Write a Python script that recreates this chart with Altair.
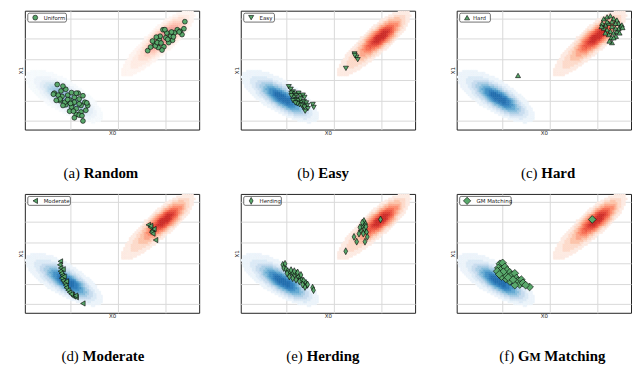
import altair as alt
import numpy as np
import pandas as pd

GREEN = "#59a86b"

X_DOMAIN = [-9.8, 8.5]
Y_DOMAIN = [-6.85, 4.75]
X_GRID = [-5, 0, 5]
Y_GRID = [-6, -4, -2, 0, 2, 4]

# KDE components:
# centre x, centre y, spread along main axis, spread across, angle (deg), weight
BLUE_KDE = [[-5.3, -3.8, 1.5, 0.5, -30, 1.0], [-6.2, -3.3, 2.3, 0.9, -27, 0.12]]
RED_KDE = [[5.0, 2.3, 1.4, 0.48, 38, 1.0], [3.0, 0.6, 1.9, 0.6, 40, 0.15]]
LEVELS = [0.03, 0.08, 0.15, 0.24, 0.34, 0.45, 0.57, 0.70, 0.84]
BLUES = ["#edf4fb", "#dceaf6", "#c8dcef", "#abcfe6", "#88bedc", "#64a9d3", "#4592c6", "#3380bd", "#2470b0"]
REDS = ["#fdebe3", "#fddaca", "#fcc3aa", "#fca78b", "#fc8b6c", "#f66d51", "#ec5340", "#de3d32", "#cc2b27"]

# (a) Random / Uniform
RANDOM_X = [-6.4, -6.7, -6.0, -5.5, -5.3, -5.9, -6.1, -5.1, -4.6, -4.2, -4.1, -4.8, -5.5, -4.9, -4.4, -3.9,
            -3.5, -3.4, -3.9, -4.4, -5.1, -5.6, -6.3, -6.8, -5.8, -3.7, -3.2, -4.6, -5.3, -4.1, -3.7, -4.9,
            -6.1, -4.7, -4.1, -3.3, -5.0, -4.4, -5.8, -3.8, -4.6, -6.5,
            3.1, 3.8, 4.3, 4.7, 5.1, 5.5, 5.7, 5.3, 4.8, 4.6, 4.2, 3.9, 4.4, 5.0, 6.2, 6.5, 7.0, 6.9, 6.7,
            6.4, 5.9, 5.6, 4.0, 3.6, 5.2, 4.1, 4.5, 5.8, 4.9, 3.4]
RANDOM_Y = [-2.45, -3.30, -3.08, -2.92, -3.49, -3.62, -4.03, -3.96, -3.71, -3.30, -3.87, -4.34, -4.43, -4.65,
            -4.81, -4.50, -4.18, -4.97, -5.13, -5.38, -5.06, -4.18, -3.49, -3.40, -2.61, -3.55, -4.50, -4.18,
            -3.93, -5.44, -6.01, -3.24, -3.87, -5.06, -4.34, -4.25, -4.3, -3.3, -4.5, -5.5, -5.7, -4.0,
            0.85, 1.54, 1.95, 2.89, 2.58, 2.26, 1.86, 1.64, 1.23, 0.91, 1.16, 1.32, 2.26, 2.11, 2.89, 2.74,
            3.68, 2.99, 2.42, 2.67, 2.58, 2.67, 2.17, 1.79, 1.95, 1.64, 1.6, 2.2, 2.9, 1.2]

# (b) Easy
EASY_X = [2.14, 2.35, 2.48, 2.17, 1.24, -4.76, -4.55, -4.31, -4.49, -4.14, -3.97, -3.73, -3.52, -3.28, -3.11,
          -4.21, -3.97, -3.73, -3.45, -3.17, -2.93, -2.83, -2.76, -3.04, -3.28, -3.62, -3.86, -4.31, -4.07,
          -3.52, -2.24, -2.14, -4.49, -3.38, -3.11]
EASY_Y = [0.53, 0.22, -0.03, 0.38, -0.88, -2.67, -2.92, -3.18, -3.30, -3.40, -3.55, -3.30, -3.55, -3.49, -3.71,
          -3.71, -3.93, -4.03, -4.18, -4.12, -4.25, -4.50, -4.81, -5.06, -4.65, -4.43, -4.34, -4.03, -4.25,
          -3.87, -4.40, -4.69, -3.55, -4.50, -4.65]

# (c) Hard
HARD_X = [-3.36, 5.64, 5.99, 6.33, 6.68, 7.02, 7.20, 7.37, 7.54, 6.85, 6.50, 6.16, 5.81, 5.64, 5.99, 6.33, 6.68,
          7.02, 7.20, 6.85, 6.50, 6.16, 6.44, 6.50, 6.23, 5.81, 5.47, 5.40, 6.92, 6.68, 7.30, 7.61, 5.99]
HARD_Y = [-1.57, 3.96, 4.15, 4.25, 3.99, 3.84, 3.52, 3.21, 3.36, 3.52, 3.68, 3.52, 3.36, 3.05, 2.89, 2.74, 2.58,
          2.74, 2.99, 3.05, 3.21, 2.42, 2.11, 1.64, 1.79, 2.58, 3.52, 3.21, 2.26, 2.11, 2.58, 3.11, 3.68]

# (d) Moderate
MODERATE_X = [-6.07, -6.14, -6.04, -6.07, -5.97, -5.86, -5.93, -5.79, -5.62, -5.52, -5.45, -5.27, -5.10, -4.82,
              -4.68, -4.41, -3.71, -5.79, -5.69, -5.45, -4.93, -4.48,
              3.16, 3.40, 3.57, 3.50, 3.64, 3.75, 3.92, 3.40]
MODERATE_Y = [-1.83, -2.17, -2.48, -2.79, -3.00, -3.22, -3.47, -3.72, -3.93, -4.15, -4.40, -4.64, -4.86, -5.08,
              -5.26, -5.33, -5.94, -2.60, -3.31, -3.78, -5.02, -5.17,
              1.73, 1.49, 1.18, 1.02, 0.87, 1.33, 0.25, 1.64]

# (e) Herding
HERDING_X = [-5.39, -5.15, -5.29, -5.05, -4.87, -4.59, -4.35, -4.18, -3.90, -3.76, -3.55, -3.41, -3.20, -2.96,
             -2.85, -3.06, -3.31, -3.65, -4.00, -4.35, -4.70, -4.94, -3.83, -4.52, -2.26, -2.16, -2.78, -4.18,
             -3.48,
             3.13, 3.31, 2.96, 3.20, 2.78, 3.06, 3.41, 2.61, 2.09, 2.37, 3.24, 3.48, 2.96, 1.22, 4.87, 2.71, 3.34]
HERDING_Y = [-2.17, -2.07, -2.48, -2.60, -2.79, -2.91, -3.00, -3.16, -3.00, -3.31, -3.47, -3.62, -3.72, -3.93,
             -4.15, -4.33, -4.09, -3.78, -3.62, -3.47, -3.31, -3.00, -2.91, -2.69, -4.40, -4.64, -4.09, -2.79,
             -3.16,
             2.11, 1.80, 1.64, 1.33, 1.18, 0.87, 1.02, 0.87, 0.56, 0.09, 0.09, 0.56, 1.95, -0.84, 2.26, 1.49, 1.55]

# (f) GM Matching
GM_X = [-5.26, -4.98, -5.43, -5.09, -5.54, -4.74, -4.50, -4.22, -4.05, -3.70, -3.53, -3.36, -3.01, -3.18, -3.70,
        -4.22, -4.64, -5.09, -4.74, -4.39, -3.88, -2.84, -2.15, -2.56, -4.91, -5.33, 4.43]
GM_Y = [-2.07, -1.98, -2.48, -2.60, -2.79, -2.38, -2.69, -2.91, -3.16, -3.00, -3.47, -3.72, -3.62, -4.09, -4.15,
        -3.78, -3.53, -3.31, -3.10, -3.41, -3.62, -3.93, -4.33, -4.15, -2.85, -3.10, 2.26]

THIN_DIAMOND = "M0,-1L0.55,0L0,1L-0.55,0Z"


def lighten(hexcol, f):
    r, g, b = (int(hexcol[i:i + 2], 16) for i in (1, 3, 5))
    r, g, b = (round(c + (255 - c) * f) for c in (r, g, b))
    return "#%02x%02x%02x" % (r, g, b)


def make_background():
    nx, ny = 92, 60
    xe = np.linspace(X_DOMAIN[0], X_DOMAIN[1], nx + 1)
    ye = np.linspace(Y_DOMAIN[0], Y_DOMAIN[1], ny + 1)
    xc = (xe[:-1] + xe[1:]) / 2
    yc = (ye[:-1] + ye[1:]) / 2
    XX, YY = np.meshgrid(xc, yc)

    def dens(comps):
        d = np.zeros_like(XX)
        for cx, cy, sa, sb, ang, w in comps:
            t = np.deg2rad(ang)
            dx, dy = XX - cx, YY - cy
            u = dx * np.cos(t) + dy * np.sin(t)
            v = -dx * np.sin(t) + dy * np.cos(t)
            d += w * np.exp(-0.5 * (u ** 2 / sa ** 2 + v ** 2 / sb ** 2))
        return d / d.max()

    rows = []
    for comps, pal in ((BLUE_KDE, BLUES), (RED_KDE, REDS)):
        lvl = np.searchsorted(LEVELS, dens(comps), side="right")
        for j in range(ny):
            for i in range(nx):
                k = int(lvl[j, i])
                if k > 0:
                    rows.append({"x": round(float(xe[i]), 3), "x2": round(float(xe[i + 1]), 3),
                                 "y": round(float(ye[j]), 3), "y2": round(float(ye[j + 1]), 3),
                                 "c": pal[k - 1], "cl": lighten(pal[k - 1], 0.5)})
    return pd.DataFrame(rows)


BG = make_background()
ONE = pd.DataFrame({"v": [0]})
W, H = 176, 120

COMMON_AXIS = dict(labels=False, ticks=False, domain=False, grid=True, gridColor="#d9d9d9", gridWidth=1,
                   titleFontSize=5.5, titleFont="DejaVu Sans", titleFontWeight="normal", titleColor="#222",
                   titlePadding=1)


def panel(xs, ys, shape, size, label, box_r, text_x, cap, light=False, leg_size=None):
    xsc = alt.Scale(domain=X_DOMAIN, nice=False, zero=False)
    ysc = alt.Scale(domain=Y_DOMAIN, nice=False, zero=False)
    xax = alt.Axis(values=X_GRID, **COMMON_AXIS)
    yax = alt.Axis(values=Y_GRID, **COMMON_AXIS)
    cf = "cl:N" if light else "c:N"
    bg = alt.Chart(BG).mark_rect(clip=True, strokeWidth=0.5).encode(
        x=alt.X("x:Q", scale=xsc, axis=xax, title="X0"),
        x2="x2:Q",
        y=alt.Y("y:Q", scale=ysc, axis=yax, title="X1"),
        y2="y2:Q",
        color=alt.Color(cf, scale=None),
        stroke=alt.Stroke(cf, scale=None),
    )
    pts = alt.Chart(pd.DataFrame({"x": xs, "y": ys})).mark_point(
        shape=shape, size=size, filled=True, fill=GREEN, stroke="black", strokeWidth=0.6, opacity=1
    ).encode(x=alt.X("x:Q", scale=xsc, axis=xax, title="X0"),
             y=alt.Y("y:Q", scale=ysc, axis=yax, title="X1"))
    box = alt.Chart(ONE).mark_rect(fill="white", stroke="#333", strokeWidth=0.7, cornerRadius=1.5).encode(
        x=alt.value(3), x2=alt.value(box_r), y=alt.value(2.5), y2=alt.value(11.5))
    lm = alt.Chart(ONE).mark_point(
        shape=shape, size=leg_size or size, filled=True, fill=GREEN, stroke="black", strokeWidth=0.6, opacity=1
    ).encode(x=alt.value(10.5), y=alt.value(7))
    lt = alt.Chart(ONE).mark_text(text=label, align="left", baseline="middle", fontSize=5.5,
                                  font="DejaVu Sans", color="#222").encode(x=alt.value(text_x), y=alt.value(7.2))
    caps = [alt.Chart(ONE).mark_text(text=t, align="left", baseline="alphabetic", fontSize=fs,
                                     font="Liberation Serif", fontWeight=fw, color="black").encode(
        x=alt.value(cx), y=alt.value(169)) for (t, cx, fs, fw) in cap]
    return alt.layer(bg, pts, box, lm, lt, *caps).properties(width=W, height=H)


pa = panel(RANDOM_X, RANDOM_Y, "circle", 24, "Uniform", 42, 19,
           [("(a)", 39, 15, "normal"), ("Random", 59.5, 15, "bold")], light=True)
pb = panel(EASY_X, EASY_Y, "triangle-down", 26, "Easy", 34, 19,
           [("(b)", 57, 15, "normal"), ("Easy", 78.3, 15, "bold")])
pc = panel(HARD_X, HARD_Y, "triangle-up", 26, "Hard", 34, 16.5,
           [("(c)", 65, 15, "normal"), ("Hard", 85.5, 15, "bold")])
pd_ = panel(MODERATE_X, MODERATE_Y, "triangle-left", 28, "Moderate", 46, 19,
            [("(d)", 37, 15, "normal"), ("Moderate", 58.3, 15, "bold")])
pe = panel(HERDING_X, HERDING_Y, THIN_DIAMOND, 48, "Herding", 41, 19,
           [("(e)", 46, 15, "normal"), ("Herding", 66.5, 15, "bold")])
pf = panel(GM_X, GM_Y, "diamond", 62, "GM Matching", 55, 20,
           [("(f)", 43, 15, "normal"), ("G", 61.8, 15, "bold"), ("M", 73.5, 12, "bold"),
            ("Matching", 88.5, 15, "bold")], leg_size=55)

chart = alt.concat(pa, pb, pc, pd_, pe, pf, columns=3, spacing={"row": 65, "column": 42},
                   bounds="flush").configure_view(stroke="#222", strokeWidth=1).properties(
    padding={"left": 10, "top": 0, "right": 0, "bottom": 0})

chart.save("out.html", embed_options={"renderer": "svg", "actions": False})
